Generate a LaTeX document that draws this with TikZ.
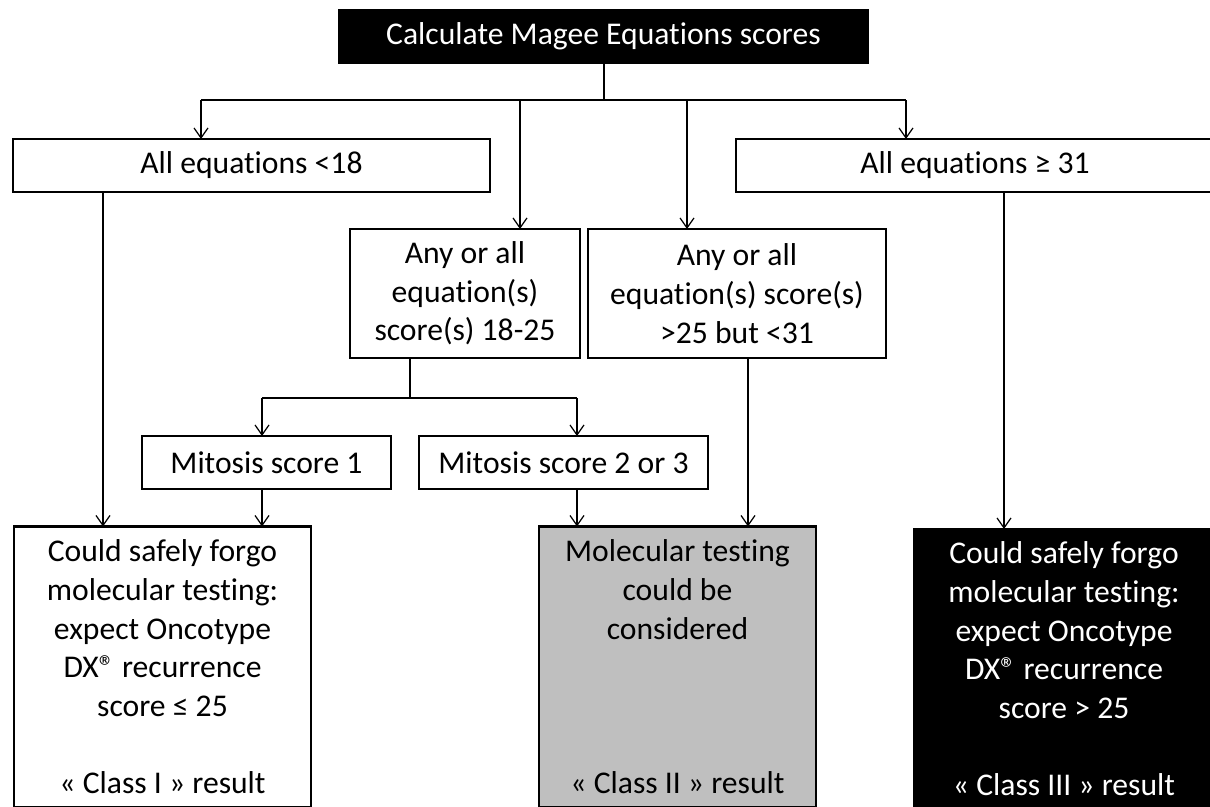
\documentclass[tikz,border=0pt]{standalone}
\usepackage{fontspec}
\setmainfont{Carlito}[Ligatures=NoCommon]
\usetikzlibrary{arrows.meta}
\begin{document}
\begin{tikzpicture}[x=0.02cm,y=-0.02cm,
 box/.style={draw=black,line width=1.6pt,inner sep=0pt,outer sep=0pt,align=center,
   font=\fontsize{18}{22}\selectfont},
 whitebox/.style={box,fill=white},
 darkbox/.style={box,fill=black,text=white},
 greybox/.style={box,fill=gray75},
 conn/.style={line width=0.7pt},
 arr/.style={conn,-{Straight Barb[length=0.2cm,width=0.28cm,line width=0.7pt]}}
]
\definecolor{gray75}{HTML}{BFBFBF}
\useasboundingbox (0,0) rectangle (1210,806);
\clip (0,0) rectangle (1210,806);
\fill[white] (0,0) rectangle (1210,806);

% nodes
\node[darkbox,minimum width=529*0.02cm,minimum height=53*0.02cm] (t) at (603.5,36.5) {Calculate Magee Equations scores};
\node[whitebox,minimum width=477*0.02cm,minimum height=53*0.02cm] (a18) at (251.5,165.5) {All equations <18};
\node[whitebox,minimum width=478*0.02cm,minimum height=53*0.02cm] (a31) at (975,165.5) {All equations ≥ 31};
\node[whitebox,minimum width=230*0.02cm,minimum height=129*0.02cm] (b1) at (465,293.5) {Any or all\\equation(s)\\score(s) 18-25};
\node[whitebox,minimum width=298*0.02cm,minimum height=129*0.02cm] (b2) at (737,293.5) {Any or all\\equation(s) score(s)\\>25 but <31};
\node[whitebox,minimum width=249*0.02cm,minimum height=53*0.02cm] (m1) at (266.5,462.5) {Mitosis score 1};
\node[whitebox,minimum width=289*0.02cm,minimum height=53*0.02cm] (m2) at (563.5,462.5) {Mitosis score 2 or 3};
\node[whitebox,minimum width=297*0.02cm,minimum height=281*0.02cm] (c1) at (162.5,667) {Could safely forgo\\molecular testing:\\expect Oncotype\\DX® recurrence\\score ≤ 25\\[22pt]« Class I » result};
\node[greybox,minimum width=277*0.02cm,minimum height=281*0.02cm] (c2) at (677.5,667) {Molecular testing\\could be\\considered\\[66pt]« Class II » result};
\node[darkbox,minimum width=300*0.02cm,minimum height=280*0.02cm] (c3) at (1064,669) {Could safely forgo\\molecular testing:\\expect Oncotype\\DX® recurrence\\score > 25\\[22pt]« Class III » result};

% junction coordinates
\coordinate (h0) at (604,100);
\coordinate (hL) at (201,100);
\coordinate (hA) at (520,100);
\coordinate (hB) at (687,100);
\coordinate (hR) at (906,100);
\coordinate (vL) at (103,0);
\coordinate (m0) at (410,398);
\coordinate (mL) at (262,398);
\coordinate (mR) at (577,398);
\coordinate (v2) at (748,0);
\coordinate (v3) at (1004,0);

% connectors
\draw[conn] (t.south -| h0) -- (h0);
\draw[conn] (hL) -- (hR);
\draw[arr] (hL) -- (hL |- a18.north);
\draw[arr] (hA) -- (hA |- b1.north);
\draw[arr] (hB) -- (hB |- b2.north);
\draw[arr] (hR) -- (hR |- a31.north);
\draw[arr] (a18.south -| vL) -- (c1.north -| vL);
\draw[conn] (b1.south -| m0) -- (m0);
\draw[conn] (mL) -- (mR);
\draw[arr] (mL) -- (mL |- m1.north);
\draw[arr] (mR) -- (mR |- m2.north);
\draw[arr] (m1.south -| mL) -- (c1.north -| mL);
\draw[arr] (m2.south -| mR) -- (c2.north -| mR);
\draw[arr] (b2.south -| v2) -- (c2.north -| v2);
\draw[arr] (a31.south -| v3) -- (c3.north -| v3);
\end{tikzpicture}
\end{document}
